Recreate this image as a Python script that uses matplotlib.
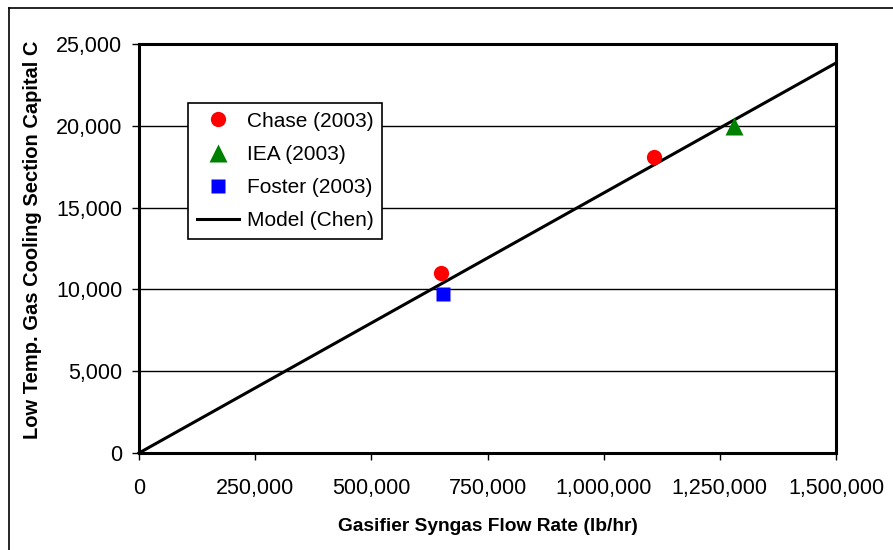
import matplotlib
matplotlib.use("Agg")
import matplotlib.pyplot as plt
from matplotlib.lines import Line2D
from matplotlib.ticker import FuncFormatter

plt.rcParams["font.family"] = ["Liberation Sans", "DejaVu Sans"]

# data
chase_x = [650000, 1108000]
chase_y = [11000, 18100]
iea_x = [1280000]
iea_y = [20000]
foster_x = [654000]
foster_y = [9700]
model_x = [0, 1500000]
model_y = [0, 23840]

x_ticks = [0, 250000, 500000, 750000, 1000000, 1250000, 1500000]
y_ticks = [0, 5000, 10000, 15000, 20000, 25000]

fig = plt.figure(figsize=(8.93, 5.5), dpi=100)
ax = fig.add_axes([139 / 893, 1 - 453 / 550, 697 / 893, 409 / 550])

for y in y_ticks[1:-1]:
    ax.axhline(y, color="black", lw=1.0, zorder=1)

ax.plot(model_x, model_y, color="black", lw=2.2, label="Model (Chen)", zorder=2, clip_on=False)
ax.plot(chase_x, chase_y, "o", color="#ff0000", ms=11, mec="none", label="Chase (2003)", zorder=3)
ax.plot(iea_x, iea_y, "^", color="#008000", ms=12.5, mec="none", label="IEA (2003)", zorder=3)
ax.plot(foster_x, foster_y, "s", color="#0000ff", ms=10.5, mec="none", label="Foster (2003)", zorder=3)

ax.set_xlim(0, 1500000)
ax.set_ylim(0, 25000)
ax.set_xticks(x_ticks)
ax.set_yticks(y_ticks)
fmt = FuncFormatter(lambda v, p: f"{int(v):,}")
ax.xaxis.set_major_formatter(fmt)
ax.yaxis.set_major_formatter(fmt)
ax.tick_params(direction="out", length=5, width=1, labelsize=15.5, color="black")
ax.tick_params(axis="x", pad=13)
ax.tick_params(axis="y", pad=7)
for s in ax.spines.values():
    s.set_linewidth(2.2)
    s.set_color("black")

ax.set_xlabel("Gasifier Syngas Flow Rate (lb/hr)", fontsize=13.8, fontweight="bold", labelpad=14)
fig.text(33 / 893, 1 - 240 / 550, "Low Temp. Gas Cooling Section Capital C",
         rotation=90, ha="center", va="center", fontsize=14.5, fontweight="bold")

handles, labels = ax.get_legend_handles_labels()
order = [1, 2, 3, 0]
leg = ax.legend([handles[i] for i in order], [labels[i] for i in order],
                loc="upper left", bbox_to_anchor=(49 / 697, 1 - 59 / 409),
                fontsize=15, frameon=True, fancybox=False, framealpha=1,
                edgecolor="black", borderpad=0.42, labelspacing=0.68,
                handlelength=2.05, handletextpad=0.34, borderaxespad=0)
leg.get_frame().set_linewidth(1.2)

# outer chart border (left and top only visible)
fig.add_artist(Line2D([9 / 893, 9 / 893], [0, 1 - 8 / 550], transform=fig.transFigure, color="black", lw=1.2))
fig.add_artist(Line2D([9 / 893, 1], [1 - 8 / 550, 1 - 8 / 550], transform=fig.transFigure, color="black", lw=1.2))

fig.savefig("out.png", dpi=100)
